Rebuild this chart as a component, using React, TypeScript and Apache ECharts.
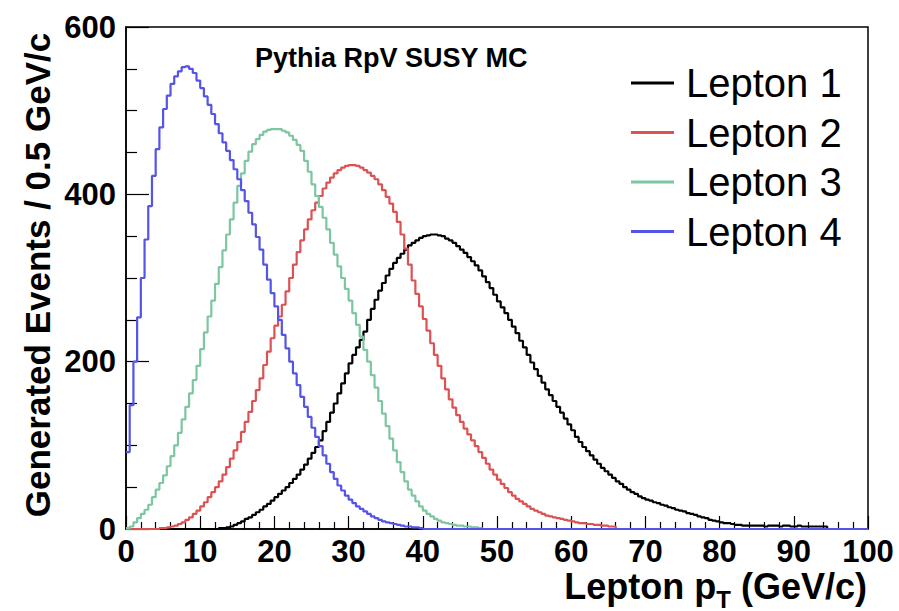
import React, { useEffect, useRef } from "react";
import * as echarts from "echarts";

// Histogram: 200 bins of 0.5 GeV/c between 0 and 100 GeV/c.
// Bins beyond the listed values are empty (0 entries).
const seriesNames = ["Lepton 1", "Lepton 2", "Lepton 3", "Lepton 4"];
const seriesColors = ["#000000", "#dc5252", "#7cc6a0", "#5454e8"];

const lepton1 = [
  0, 0, 0, 0, 0, 0, 0, 0, 0, 0, 0, 0, 0, 0, 0, 0, 0, 0, 0, 0, 0, 0, 0, 0, 0,
  1, 1, 2, 3, 5, 7, 9, 12, 14, 17, 20, 23, 27, 30, 34, 38, 42, 46, 50, 55, 60,
  65, 71, 77, 84, 91, 98, 106, 117, 128, 139, 150, 162, 174, 186, 198, 208,
  217, 226, 236, 250, 263, 274, 285, 294, 303, 311, 318, 324, 329, 334, 339,
  342, 345, 348, 350, 351, 352, 352, 351, 350, 347, 345, 342, 338, 334, 330,
  325, 320, 315, 309, 302, 295, 288, 280, 272, 265, 258, 250, 242, 234, 225,
  217, 208, 199, 191, 183, 175, 167, 160, 153, 146, 139, 132, 125, 118, 110,
  104, 98, 93, 88, 83, 78, 73, 69, 65, 61, 57, 54, 50, 47, 44, 42, 39, 37, 35,
  34, 32, 31, 29, 28, 26, 25, 23, 22, 21, 19, 18, 17, 15, 14, 13, 11, 10, 9,
  8, 7, 7, 6, 5, 5, 4, 4, 4, 4, 4, 4, 3, 4, 4, 4, 3, 4, 4, 3, 3, 4, 3, 3, 3,
  3, 3, 3, 3,
];

const lepton2 = [
  0, 0, 0, 0, 0, 0, 0, 0, 0, 1, 1, 2, 3, 4, 6, 8, 11, 14, 18, 22, 27, 32, 38,
  44, 50, 57, 65, 74, 84, 94, 104, 116, 128, 140, 153, 166, 180, 196, 212, 228,
  243, 254, 268, 284, 300, 316, 331, 345, 358, 370, 381, 390, 398, 407, 414,
  420, 425, 429, 432, 434, 435, 435, 434, 432, 429, 426, 422, 418, 412, 405,
  397, 389, 379, 367, 352, 335, 316, 297, 281, 266, 251, 237, 222, 208, 195,
  180, 167, 155, 145, 136, 128, 120, 113, 106, 99, 92, 85, 78, 71, 65, 59, 54,
  49, 44, 40, 36, 33, 30, 27, 24, 22, 20, 18, 16, 15, 14, 13, 12, 11, 10, 9, 8,
  7, 7, 6, 6, 5, 5, 4, 4, 3, 3,
];

const lepton3 = [
  1, 3, 8, 13, 18, 23, 29, 38, 47, 55, 64, 75, 87, 100, 115, 131, 146, 162,
  178, 195, 215, 235, 254, 273, 293, 313, 333, 352, 370, 390, 410, 425, 440,
  451, 460, 466, 471, 475, 477, 478, 478, 478, 476, 474, 470, 465, 459, 452,
  440, 427, 412, 398, 385, 372, 358, 342, 328, 314, 300, 287, 273, 258, 244,
  230, 214, 200, 184, 169, 153, 138, 123, 108, 94, 80, 68, 57, 47, 40, 33, 27,
  22, 18, 15, 12, 10, 8, 7, 6, 5, 4, 4, 3, 3, 2, 2, 1,
];

const lepton4 = [
  92, 148, 200, 253, 300, 346, 386, 422, 454, 480, 502, 518, 532, 541, 547,
  552, 553, 550, 545, 536, 527, 517, 507, 496, 484, 473, 462, 452, 441, 430,
  418, 405, 392, 378, 364, 349, 334, 316, 298, 282, 266, 250, 232, 216, 200,
  186, 172, 158, 146, 134, 121, 110, 99, 88, 78, 68, 60, 52, 46, 40, 35, 31,
  27, 24, 21, 18, 15, 13, 11, 9, 8, 7, 6, 5, 4, 3, 3, 2, 2, 1,
];

const xTickLabels = ["0", "10", "20", "30", "40", "50", "60", "70", "80", "90", "100"];
const yTickLabels = ["0", "200", "400", "600"];

const titleText = "Pythia RpV SUSY MC";
const yTitle = "Generated Events / 0.5 GeV/c";
const xTitleMain = "Lepton p";
const xTitleSub = "T";
const xTitleUnit = " (GeV/c)";

const N_BINS = 200;
const BIN_WIDTH = 0.5;

function toSteps(vals: number[]): [number, number][] {
  const pts: [number, number][] = [];
  for (let i = 0; i < N_BINS; i++) {
    pts.push([i * BIN_WIDTH, i < vals.length ? vals[i] : 0]);
  }
  pts.push([N_BINS * BIN_WIDTH, pts[N_BINS - 1][1]]);
  return pts;
}

const FONT = "'Liberation Sans', Arial, Helvetica, sans-serif";

function measure(text: string, font: string): number {
  const c = document.createElement("canvas");
  const ctx = c.getContext("2d");
  if (!ctx) return text.length * 18;
  ctx.font = font;
  return ctx.measureText(text).width;
}

export default function App() {
  const ref = useRef<HTMLDivElement>(null);

  useEffect(() => {
    if (!ref.current) return;
    const chart = echarts.init(ref.current, undefined, { renderer: "svg" });
    const allData = [lepton1, lepton2, lepton3, lepton4];

    const mainSize = 36;
    const subSize = 24;
    const unitW = measure(xTitleUnit, `bold ${mainSize}px ${FONT}`);
    const subW = measure(xTitleSub, `bold ${subSize}px ${FONT}`);
    const xTitleRight = 867;
    const xTitleBottom = 604;

    chart.setOption({
      animation: false,
      backgroundColor: "#ffffff",
      grid: {
        left: 126,
        top: 27,
        right: 31,
        bottom: 82,
        show: true,
        borderColor: "#000",
        borderWidth: 1.5,
        backgroundColor: "transparent",
      },
      xAxis: {
        type: "value",
        min: 0,
        max: 100,
        interval: 10,
        axisLine: { show: true, lineStyle: { color: "#000", width: 1.5 } },
        axisTick: { show: true, inside: true, length: 13, lineStyle: { color: "#000", width: 1.2 } },
        minorTick: { show: true, splitNumber: 5, length: 7, lineStyle: { color: "#000", width: 1.2 } },
        splitLine: { show: false },
        minorSplitLine: { show: false },
        axisLabel: {
          color: "#000",
          fontSize: 31,
          lineHeight: 28,
          fontWeight: "bold",
          fontFamily: FONT,
          margin: 8,
          formatter: (v: number) => xTickLabels[Math.round(v / 10)] ?? String(v),
        },
      },
      yAxis: {
        type: "value",
        min: 0,
        max: 600,
        interval: 200,
        axisLine: { show: true, lineStyle: { color: "#000", width: 1.5 } },
        axisTick: { show: true, inside: true, length: 23, lineStyle: { color: "#000", width: 1.2 } },
        minorTick: { show: true, splitNumber: 4, length: 11, lineStyle: { color: "#000", width: 1.2 } },
        splitLine: { show: false },
        minorSplitLine: { show: false },
        axisLabel: {
          color: "#000",
          fontSize: 31,
          fontWeight: "bold",
          fontFamily: FONT,
          margin: 10,
          formatter: (v: number) => yTickLabels[Math.round(v / 200)] ?? String(v),
        },
      },
      legend: {
        orient: "vertical",
        left: 631,
        top: 63,
        padding: 0,
        itemWidth: 43,
        itemHeight: 3,
        itemGap: 9.5,
        icon: "rect",
        selectedMode: false,
        data: seriesNames,
        textStyle: {
          color: "#000",
          fontSize: 40,
          lineHeight: 40,
          fontFamily: FONT,
          padding: [0, 0, 0, 7],
        },
      },
      graphic: [
        {
          type: "text",
          x: 255,
          y: 58,
          style: {
            text: titleText,
            fill: "#000",
            fontSize: 27,
            fontWeight: "bold",
            fontFamily: FONT,
            align: "left",
            verticalAlign: "middle",
          },
        },
        {
          type: "text",
          x: 37,
          y: 275,
          rotation: Math.PI / 2,
          style: {
            text: yTitle,
            fill: "#000",
            fontSize: 35,
            fontWeight: "bold",
            fontFamily: FONT,
            align: "center",
            verticalAlign: "middle",
          },
        },
        {
          type: "text",
          x: xTitleRight,
          y: xTitleBottom,
          style: {
            text: xTitleUnit,
            fill: "#000",
            fontSize: mainSize,
            fontWeight: "bold",
            fontFamily: FONT,
            align: "right",
            verticalAlign: "bottom",
          },
        },
        {
          type: "text",
          x: xTitleRight - unitW,
          y: xTitleBottom + 7,
          style: {
            text: xTitleSub,
            fill: "#000",
            fontSize: subSize,
            fontWeight: "bold",
            fontFamily: FONT,
            align: "right",
            verticalAlign: "bottom",
          },
        },
        {
          type: "text",
          x: xTitleRight - unitW - subW,
          y: xTitleBottom,
          style: {
            text: xTitleMain,
            fill: "#000",
            fontSize: mainSize,
            fontWeight: "bold",
            fontFamily: FONT,
            align: "right",
            verticalAlign: "bottom",
          },
        },
      ],
      series: allData.map((vals, k) => ({
        name: seriesNames[k],
        type: "line",
        step: "end",
        showSymbol: false,
        symbol: "none",
        data: toSteps(vals),
        color: seriesColors[k],
        lineStyle: { color: seriesColors[k], width: 2.2 },
        itemStyle: { color: seriesColors[k] },
        z: 2 + k,
      })),
    });

    return () => chart.dispose();
  }, []);

  return (
    <div
      ref={ref}
      style={{ position: "fixed", left: 0, top: 0, width: 899, height: 611, background: "#fff" }}
    />
  );
}
